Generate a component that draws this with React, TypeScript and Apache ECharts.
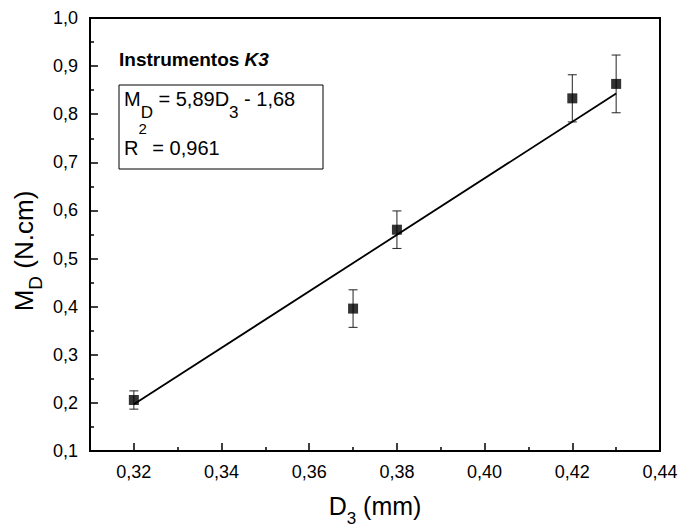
import React, { useEffect, useRef } from "react";
import * as echarts from "echarts";

// ---- data ----
const diameters = [0.32, 0.37, 0.38, 0.42, 0.43];
const torques = [0.206, 0.396, 0.56, 0.833, 0.863];
const torqueErrors = [0.019, 0.039, 0.039, 0.049, 0.06];
const fitX = [0.32, 0.43];
const fitY = [0.197, 0.843];
const xMajorTicks = [0.32, 0.34, 0.36, 0.38, 0.4, 0.42, 0.44];
const xMinorTicks = [0.33, 0.35, 0.37, 0.39, 0.41, 0.43];
const title = "Instrumentos ";
const titleItalic = "K3";
const eqSlope = "5,89";
const eqIntercept = "1,68";
const r2Value = "0,961";

const FONT = "'Liberation Sans', Arial, sans-serif";
const comma = (v: number, d: number) => v.toFixed(d).replace(".", ",");

export default function App() {
  const ref = useRef<HTMLDivElement>(null);
  useEffect(() => {
    if (!ref.current) return;
    const chart = echarts.init(ref.current, null, { renderer: "svg" });
    const scatterData = diameters.map((x, i) => [x, torques[i]]);
    const errData = diameters.map((x, i) => [x, torques[i] - torqueErrors[i], torques[i] + torqueErrors[i]]);
    const fitData = fitX.map((x, i) => [x, fitY[i]]);

    const xNameRich = {
      m: { fontSize: 25, lineHeight: 25, verticalAlign: "top", fontFamily: FONT, color: "#000" },
      s: { fontSize: 17, lineHeight: 34, verticalAlign: "bottom", fontFamily: FONT, color: "#000" },
    };

    const option: any = {
      animation: false,
      backgroundColor: "#fff",
      grid: {
        left: 90,
        right: 28,
        top: 18,
        bottom: 76,
        show: true,
        borderColor: "#000",
        borderWidth: 2,
        containLabel: false,
      },
      xAxis: [
        {
          type: "value",
          min: 0.31,
          max: 0.44,
          position: "bottom",
          splitLine: { show: false },
          axisLine: { show: true, lineStyle: { color: "#000", width: 2 } },
          axisTick: {
            show: true,
            inside: true,
            length: 8,
            customValues: xMajorTicks,
            lineStyle: { color: "#000", width: 1.5 },
          },
          axisLabel: {
            customValues: xMajorTicks,
            formatter: (v: number) => comma(v, 2),
            fontSize: 18,
            fontFamily: FONT,
            color: "#000",
            margin: 12,
          },
          name: "{m|D}{s|3}{m| (mm)}",
          nameLocation: "middle",
          nameGap: 42,
          nameTextStyle: { rich: xNameRich },
        },
        {
          type: "value",
          min: 0.31,
          max: 0.44,
          position: "bottom",
          splitLine: { show: false },
          axisLine: { show: false },
          axisTick: {
            show: true,
            inside: true,
            length: 4,
            customValues: xMinorTicks,
            lineStyle: { color: "#000", width: 1.5 },
          },
          axisLabel: { show: false },
        },
      ],
      yAxis: {
        type: "value",
        min: 0.1,
        max: 1.0,
        interval: 0.1,
        splitLine: { show: false },
        axisLine: { show: true, lineStyle: { color: "#000", width: 2 } },
        axisTick: { show: true, inside: true, length: 8, lineStyle: { color: "#000", width: 1.5 } },
        minorTick: { show: true, splitNumber: 2, length: 4, lineStyle: { color: "#000", width: 1.5 } },
        axisLabel: {
          formatter: (v: number) => comma(v, 1),
          fontSize: 18,
          fontFamily: FONT,
          color: "#000",
          margin: 12,
        },
      },
      series: [
        {
          type: "custom",
          xAxisIndex: 0,
          encode: { x: 0, y: [1, 2] },
          data: errData,
          z: 2,
          renderItem: (params: any, api: any) => {
            const x = api.value(0);
            const lo = api.coord([x, api.value(1)]);
            const hi = api.coord([x, api.value(2)]);
            const hw = 4.5;
            const st = { stroke: "#222", lineWidth: 1 };
            return {
              type: "group",
              children: [
                { type: "line", shape: { x1: lo[0], y1: lo[1], x2: hi[0], y2: hi[1] }, style: st },
                { type: "line", shape: { x1: lo[0] - hw, y1: lo[1], x2: lo[0] + hw, y2: lo[1] }, style: st },
                { type: "line", shape: { x1: hi[0] - hw, y1: hi[1], x2: hi[0] + hw, y2: hi[1] }, style: st },
              ],
            };
          },
        },
        {
          type: "line",
          xAxisIndex: 0,
          data: fitData,
          showSymbol: false,
          symbol: "none",
          lineStyle: { color: "#000", width: 1.8 },
          z: 3,
        },
        {
          type: "scatter",
          xAxisIndex: 0,
          data: scatterData,
          symbol: "rect",
          symbolSize: 10,
          itemStyle: { color: "#000" },
          z: 4,
        },
      ],
      graphic: [
        {
          type: "text",
          x: 11,
          y: 251,
          rotation: Math.PI / 2,
          style: {
            text: "{m|M}{s|D}{m| (N.cm)}",
            verticalAlign: "top",
            align: "center",
            rich: {
              m: { fontSize: 26, lineHeight: 26, verticalAlign: "top", fontFamily: FONT, fill: "#000" },
              s: { fontSize: 19, lineHeight: 34, verticalAlign: "bottom", fontFamily: FONT, fill: "#000" },
            },
          },
        },
        {
          type: "text",
          x: 119,
          y: 59,
          style: {
            text: `{b|${title}}{bi|${titleItalic}}`,
            verticalAlign: "middle",
            align: "left",
            rich: {
              b: { fontSize: 19, fontWeight: "bold", fontFamily: FONT, fill: "#000" },
              bi: { fontSize: 19, fontWeight: "bold", fontStyle: "italic", fontFamily: FONT, fill: "#000" },
            },
          },
        },
        {
          type: "rect",
          shape: { x: 119, y: 85, width: 204, height: 84 },
          style: { fill: "#fff", stroke: "#000", lineWidth: 1 },
        },
        {
          type: "text",
          x: 124,
          y: 89,
          style: {
            text: `{m|M}{s|D}{m| = ${eqSlope}D}{s|3}{m| - ${eqIntercept}}`,
            verticalAlign: "top",
            align: "left",
            rich: {
              m: { fontSize: 20, lineHeight: 20, verticalAlign: "top", fontFamily: FONT, fill: "#000" },
              s: { fontSize: 17, lineHeight: 32, verticalAlign: "bottom", fontFamily: FONT, fill: "#000" },
            },
          },
        },
        {
          type: "text",
          x: 124,
          y: 158,
          style: {
            text: `{m|R}{p|2}{m| = ${r2Value}}`,
            verticalAlign: "bottom",
            align: "left",
            rich: {
              m: { fontSize: 20, lineHeight: 20, verticalAlign: "bottom", fontFamily: FONT, fill: "#000" },
              p: { fontSize: 15, lineHeight: 37, verticalAlign: "top", fontFamily: FONT, fill: "#000" },
            },
          },
        },
      ],
    };
    chart.setOption(option);
    return () => chart.dispose();
  }, []);
  return <div ref={ref} style={{ width: 688, height: 532, position: "absolute", left: 0, top: 0 }} />;
}
